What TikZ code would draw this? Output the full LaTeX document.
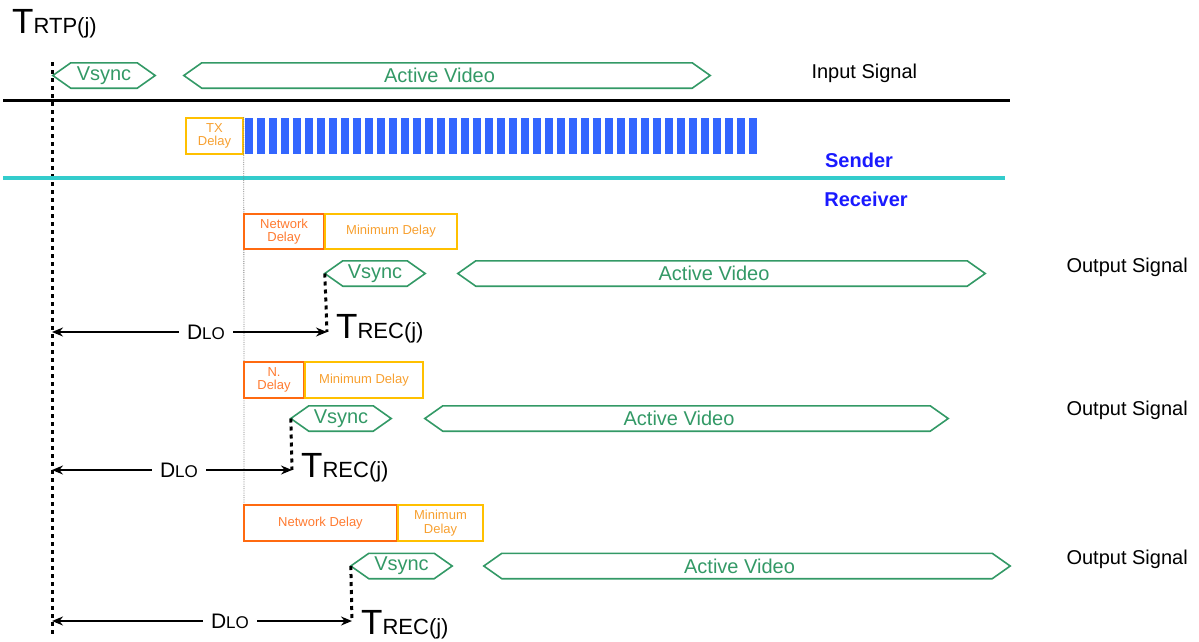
\documentclass[tikz,border=0pt]{standalone}
\usepackage{fontspec}
\setmainfont{Liberation Sans}
\usetikzlibrary{arrows.meta}
\definecolor{sigGreen}{HTML}{339966}
\definecolor{netOrange}{HTML}{FF6A10}
\definecolor{netText}{HTML}{FF7A30}
\definecolor{minYellow}{HTML}{FFC000}
\definecolor{minText}{HTML}{F7A030}
\definecolor{barBlue}{HTML}{3366FF}
\definecolor{sideBlue}{HTML}{1A1AFF}
\definecolor{lineCyan}{HTML}{33CCCC}
\newcommand{\pxfont}[1]{\fontsize{#1}{#1}\selectfont}
\newcommand{\tlabel}[1]{{\pxfont{35}T}{\pxfont{22}#1}}
\newcommand{\dlabel}{{\pxfont{21}D}{\pxfont{17}LO}}
\newcommand{\avtext}{Active Video\hspace*{15pt}}
\tikzset{
  sigtext/.style={inner sep=0pt, minimum height=25, text=sigGreen, font=\pxfont{20}},
  sigline/.style={draw=sigGreen, line width=1.6pt, line join=miter},
  netbox/.style={draw=netOrange, line width=1.6pt, text=netText, align=center,
    inner sep=0pt, minimum height=35, font=\pxfont{13}\linespread{1.05}\selectfont},
  minbox/.style={draw=minYellow, line width=1.6pt, text=minText, align=center,
    inner sep=0pt, minimum height=35, font=\pxfont{13}\linespread{1.05}\selectfont},
  dlo/.style={inner sep=8pt},
  dloarrow/.style={line width=1.4pt, -{Stealth[length=11pt,width=9pt]}},
  dotline/.style={line width=3pt, dash pattern=on 4pt off 4pt},
  sidelabel/.style={font=\pxfont{20}, anchor=west},
}
% hexagon signal: name, left x, right x, y, text
\newcommand{\hexsig}[5]{%
  \node[sigtext, minimum width={#3-#2}] (#1) at ({(#2+#3)/2},#4) {#5};
  \draw[sigline] (#1.west) -- ([xshift=18pt]#1.north west) -- ([xshift=-18pt]#1.north east)
    -- (#1.east) -- ([xshift=-18pt]#1.south east) -- ([xshift=18pt]#1.south west) -- cycle;}

\begin{document}
\begin{tikzpicture}[x=1pt, y=-1pt]
  \useasboundingbox (0,0) rectangle (1199,641);

  % input signal
  \node[anchor=base west, inner sep=0pt] (trtp) at (12,33) {\tlabel{RTP(j)}};
  \coordinate (rtpTop) at (52,62);
  \coordinate (rtpBot) at (52,636);
  \draw[dotline] (rtpTop) -- (rtpBot);
  \hexsig{vs0}{53}{155}{75.5}{Vsync}
  \hexsig{av0}{184}{710}{75.5}{\avtext}
  \node[sidelabel] (insig) at (808,73) {Input Signal};
  \draw[line width=3pt] (3,100) -- (1010,100);

  % sender
  \node[minbox, minimum width=57, minimum height=36] (tx) at (214.5,136) {TX\\Delay};
  \foreach \i in {0,...,42}
    \fill[barBlue] ({245+12*\i},118) rectangle ++(7.5,36);
  \node[font=\bfseries\pxfont{20}, text=sideBlue] (sender) at (859,160) {Sender};
  \draw[lineCyan, line width=4pt] (3,178) -- (1005,178);
  \node[font=\bfseries\pxfont{20}, text=sideBlue] (receiver) at (866,199) {Receiver};
  \coordinate (txEnd) at (244,505);
  \draw[gray, densely dotted, line width=0.8pt] (tx.north east) -- (txEnd);

  % receiver 1
  \node[netbox, minimum width=80] (net1) at (284,231.5) {Network\\Delay};
  \node[minbox, minimum width=132] (min1) at (391,231.5) {Minimum Delay};
  \hexsig{vs1}{325}{425}{273.5}{Vsync}
  \hexsig{av1}{458}{985}{273.5}{\avtext}
  \node[sidelabel] (out1) at (1063,267) {Output Signal};
  \coordinate (rec1) at (327,332);
  \coordinate (lo1) at (52,332);
  \draw[dotline] (vs1.west) -- (rec1);
  \node[dlo] (dlo1) at (206,332) {\dlabel};
  \draw[dloarrow] (dlo1) -- (lo1);
  \draw[dloarrow] (dlo1) -- (rec1);
  \node[anchor=base west, inner sep=0pt] (trec1) at (336,338) {\tlabel{REC(j)}};

  % receiver 2
  \node[netbox, minimum width=60, minimum height=36] (net2) at (274,380) {N.\\Delay};
  \node[minbox, minimum width=118, minimum height=36] (min2) at (364,380) {Minimum Delay};
  \hexsig{vs2}{291}{391}{418.5}{Vsync}
  \hexsig{av2}{425}{948}{418.5}{\avtext}
  \node[sidelabel] (out2) at (1063,410) {Output Signal};
  \coordinate (rec2) at (292,470);
  \coordinate (lo2) at (52,470);
  \draw[dotline] (vs2.west) -- (rec2);
  \node[dlo] (dlo2) at (179,470) {\dlabel};
  \draw[dloarrow] (dlo2) -- (lo2);
  \draw[dloarrow] (dlo2) -- (rec2);
  \node[anchor=base west, inner sep=0pt] (trec2) at (301,477) {\tlabel{REC(j)}};

  % receiver 3
  \node[netbox, minimum width=153, minimum height=36] (net3) at (320.5,523) {Network Delay};
  \node[minbox, minimum width=85, minimum height=36] (min3) at (440.5,523) {Minimum\\Delay};
  \hexsig{vs3}{351}{452}{566}{Vsync}
  \hexsig{av3}{484}{1010}{566}{\avtext}
  \node[sidelabel] (out3) at (1063,559) {Output Signal};
  \coordinate (rec3) at (352,621);
  \coordinate (lo3) at (52,621);
  \draw[dotline] (vs3.west) -- (rec3);
  \node[dlo] (dlo3) at (230,621) {\dlabel};
  \draw[dloarrow] (dlo3) -- (lo3);
  \draw[dloarrow] (dlo3) -- (rec3);
  \node[anchor=base west, inner sep=0pt] (trec3) at (361,634) {\tlabel{REC(j)}};
\end{tikzpicture}
\end{document}
